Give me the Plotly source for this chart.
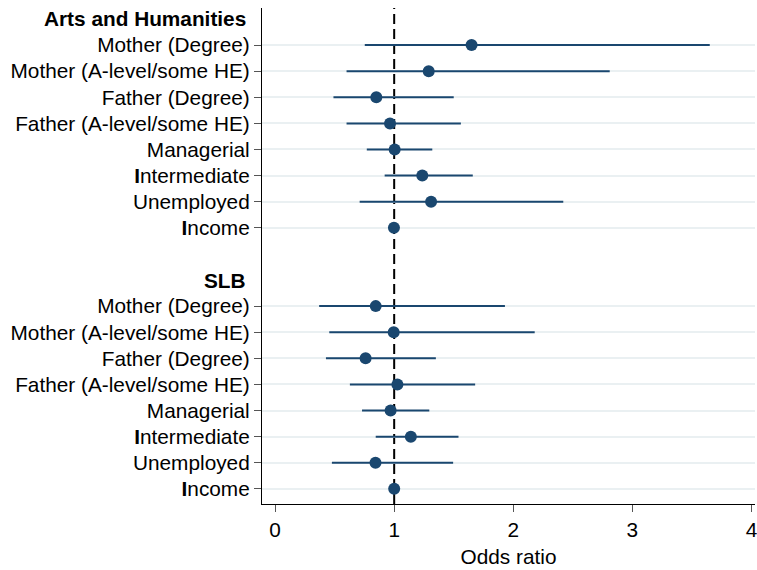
import plotly.graph_objects as go

# Variables (same for both groups)
labels = ["Mother (Degree)", "Mother (A-level/some HE)", "Father (Degree)",
          "Father (A-level/some HE)", "Managerial", "<b>I</b>ntermediate",
          "Unemployed", "<b>I</b>ncome"]
groups = ["Arts and Humanities", "SLB"]

# Odds ratios and 95% CI
or_arts = [1.65, 1.29, 0.85, 0.965, 1.004, 1.236, 1.31, 0.998]
lo_arts = [0.753, 0.60, 0.49, 0.60, 0.77, 0.92, 0.71, 0.99]
hi_arts = [3.65, 2.81, 1.50, 1.56, 1.32, 1.66, 2.42, 1.01]

or_slb = [0.845, 0.996, 0.76, 1.027, 0.97, 1.14, 0.843, 1.0]
lo_slb = [0.37, 0.455, 0.427, 0.628, 0.73, 0.845, 0.477, 0.99]
hi_slb = [1.93, 2.18, 1.35, 1.68, 1.295, 1.54, 1.495, 1.01]

NAVY = "#1a476f"
FONT = "Liberation Sans, Arial, Helvetica, sans-serif"
FS = 20.8

# row positions: header, 8 items, blank, header, 8 items
n = len(labels)
head_pos = [0, n + 2]
arts_pos = [i + 1 for i in range(n)]
slb_pos = [i + n + 3 for i in range(n)]

fig = go.Figure()

for ors, lo, hi, pos in [(or_arts, lo_arts, hi_arts, arts_pos),
                         (or_slb, lo_slb, hi_slb, slb_pos)]:
    fig.add_trace(go.Scatter(
        x=ors, y=pos, mode="markers",
        marker=dict(color=NAVY, size=12),
        error_x=dict(type="data", symmetric=False,
                     array=[h - o for h, o in zip(hi, ors)],
                     arrayminus=[o - l for o, l in zip(ors, lo)],
                     color=NAVY, thickness=2, width=0),
        showlegend=False, hoverinfo="x+y"))

# reference line at OR = 1
fig.add_shape(type="line", x0=1, x1=1, y0=0, y1=1, xref="x", yref="paper",
              line=dict(color="black", width=2, dash="10px,5px"), layer="between")

# group headers
for g, p in zip(groups, head_pos):
    fig.add_annotation(text="<b>" + g + "</b>", x=0, xref="paper", y=p, yref="y",
                       xanchor="right", xshift=-14, showarrow=False,
                       font=dict(size=FS, color="black", family=FONT))

fig.update_xaxes(range=[-0.11, 4.03], tickvals=[0, 1, 2, 3, 4],
                 showgrid=False, zeroline=False, automargin=False,
                 showline=True, linecolor="black", linewidth=1.2,
                 ticks="outside", ticklen=7, tickcolor="#555555",
                 ticklabeloverflow="allow",
                 tickfont=dict(size=FS, color="black", family=FONT),
                 title=dict(text="Odds ratio", standoff=9,
                            font=dict(size=FS, color="black", family=FONT)))
fig.update_yaxes(range=[n * 2 + 2 + 0.58, -0.42],
                 tickvals=arts_pos + slb_pos, ticktext=labels + labels,
                 showgrid=True, gridcolor="#eaf0f2", gridwidth=2,
                 zeroline=False, showline=True, linecolor="black", linewidth=1.2,
                 ticks="outside", ticklen=7, tickcolor="#555555", automargin=False,
                 tickfont=dict(size=FS, color="black", family=FONT))

fig.update_layout(width=757, height=570,
                  margin=dict(l=262, r=2, t=8, b=66),
                  plot_bgcolor="white", paper_bgcolor="white",
                  font=dict(family=FONT, color="black"))

# drop the default page margin so the figure fills the window
fig.write_html("out.html", config={"displayModeBar": False},
               post_script="document.body.style.margin='0';"
                           "document.body.style.overflow='hidden';")
